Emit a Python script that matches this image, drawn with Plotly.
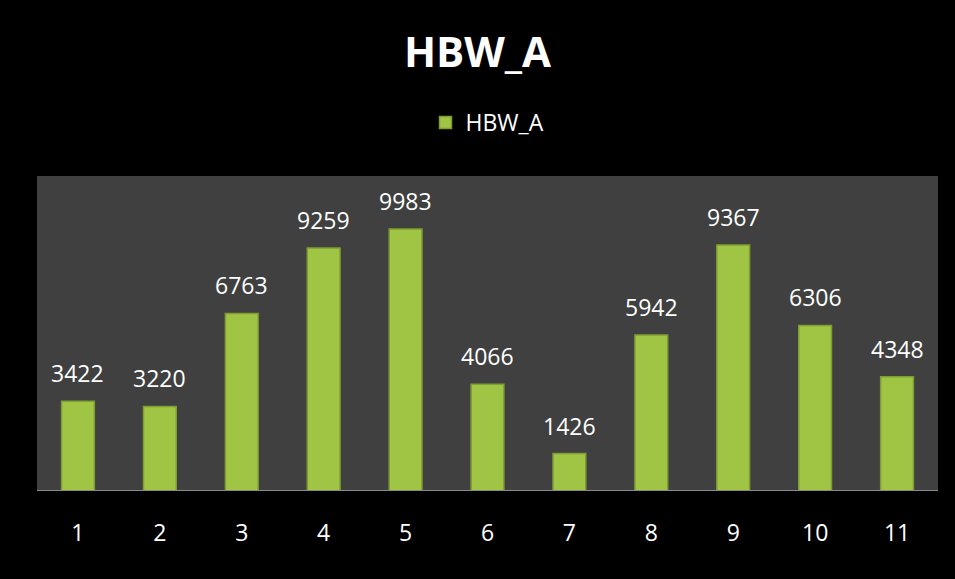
import plotly.graph_objects as go

categories = ["1", "2", "3", "4", "5", "6", "7", "8", "9", "10", "11"]
values = [3422, 3220, 6763, 9259, 9983, 4066, 1426, 5942, 9367, 6306, 4348]
series_name = "HBW_A"
title_text = "HBW_A"

font_family = "Open Sans, Liberation Sans, sans-serif"

fig = go.Figure()
fig.add_trace(go.Bar(
    x=categories, y=values, name=series_name,
    marker=dict(color="#a0c444", line=dict(color="#7f9e32", width=1.5)),
    width=0.4,
))

annotations = [
    dict(x=i, y=v, xref="x", yref="y", text=str(v), showarrow=False,
         yanchor="bottom", yshift=10, font=dict(color="white", size=23, family=font_family))
    for i, v in enumerate(values)
]

fig.update_layout(
    width=955, height=579,
    paper_bgcolor="black", plot_bgcolor="#404040",
    margin=dict(l=37, r=17, t=176, b=88),
    title=dict(text="<b>" + title_text + "</b>", x=0.5, xanchor="center", y=0.91, yanchor="middle",
               font=dict(color="white", size=42, family=font_family)),
    showlegend=True,
    legend=dict(orientation="h", x=0.5, xanchor="center", y=1.17, yanchor="middle",
                font=dict(color="white", size=23, family=font_family), bgcolor="rgba(0,0,0,0)"),
    xaxis=dict(showgrid=False, showline=False, ticks="", tickfont=dict(color="white", size=23, family=font_family),
               ticklabelstandoff=26),
    yaxis=dict(range=[0, 12000], visible=False, showgrid=False),
    annotations=annotations,
)
fig.add_shape(type="line", xref="paper", yref="y", x0=0, x1=1, y0=0, y1=0,
              line=dict(color="#8a8a8a", width=2))

fig.write_html("out.html", config={"displayModeBar": False},
               post_script="document.body.style.margin='0';document.body.style.background='black';")
